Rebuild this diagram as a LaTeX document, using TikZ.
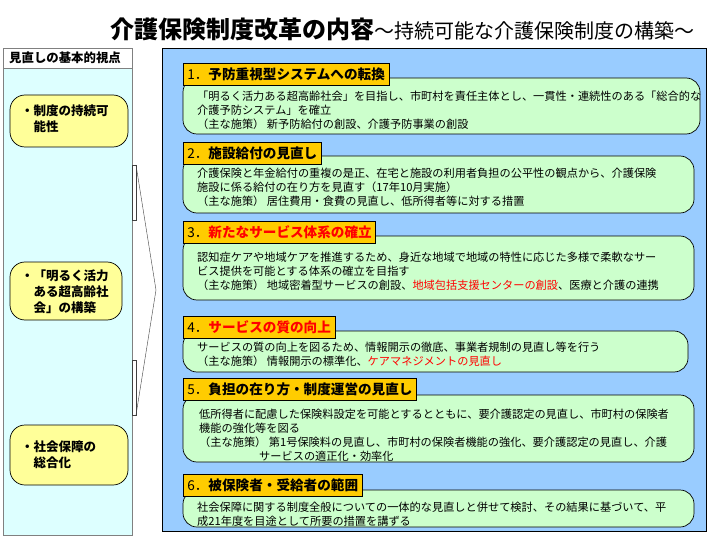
\documentclass[tikz,border=0pt]{standalone}
\usepackage{fontspec}
\newfontfamily\jpfont{Noto Sans CJK JP}
\definecolor{panelblue}{HTML}{99CCFF}
\definecolor{itemgreen}{HTML}{CCFFCC}
\definecolor{headorange}{HTML}{FFCC00}
\definecolor{sidecyan}{HTML}{DDFFFF}
\definecolor{viewyellow}{HTML}{FFFF99}
\definecolor{accentred}{HTML}{FF0000}

\begin{document}
\begin{tikzpicture}[x = 1pt, y = -1pt,
	itembox/.style = {draw = black, fill = itemgreen, rounded corners = 14pt, line width = 0.7pt},
	headbox/.style = {draw = black, fill = headorange, anchor = north west, inner xsep = 4pt, inner ysep = 0pt, minimum height = 22pt, line width = 0.7pt, font = \jpfont\bfseries\fontsize{13.6}{16}\selectfont},
	itemtext/.style = {anchor = north west, inner sep = 0pt, align = left, font = \jpfont\fontsize{11.2}{14}\selectfont},
	viewbox/.style = {draw = black, fill = viewyellow, rounded corners = 15pt, line width = 0.7pt},
	viewtext/.style = {anchor = north west, inner sep = 0pt, align = left, font = \jpfont\bfseries\fontsize{12.5}{16}\selectfont}]

	\useasboundingbox [fill = white] (0, 0) rectangle (720, 540);

	% Title

	\node (title) [anchor = base west, inner sep = 0pt, font = \jpfont\bfseries\fontsize{24}{27}\selectfont] at (110, 39) {介護保険制度改革の内容};
	\node (subtitle) [anchor = base west, inner sep = 0pt, font = \jpfont\fontsize{20}{23}\selectfont] at (title.base east) {～持続可能な介護保険制度の構築～};

	% Basic viewpoints

	\draw [draw = gray, fill = sidecyan] (3, 48) rectangle (132, 535);
	\draw [draw = gray, fill = white] (3, 48) rectangle (132, 68);
	\node (viewhead) [anchor = west, inner sep = 0pt, font = \jpfont\bfseries\fontsize{12.4}{14}\selectfont] at (9, 58) {見直しの基本的視点};

	\draw [viewbox] (10, 95) rectangle (128, 147);
	\node (view1) [viewtext] at (21, 105) {・制度の持続可\\\phantom{・}能性};

	\draw [viewbox] (10, 262) rectangle (122, 320);
	\node (view2) [viewtext] at (21, 270) {・「明るく活力\\\phantom{・}ある超高齢社\\\phantom{・}会」の構築};

	\draw [viewbox] (10, 425) rectangle (128, 485);
	\node (view3) [viewtext] at (21, 441) {・社会保障の\\\phantom{・}総合化};

	% Chevron

	\coordinate (arrowtop) at (136, 165);
	\coordinate (arrowtip) at (156, 290);
	\coordinate (arrowbottom) at (136, 415);

	\draw [draw = darkgray, fill = white] (132, 165) rectangle (arrowtop |- 0, 220);
	\draw [draw = darkgray, fill = white] (132, 360) rectangle (arrowbottom);
	\draw [darkgray] (arrowtop) -- (arrowtip) -- (arrowbottom);

	% Reform panel

	\draw [draw = black, line width = 0.8pt, fill = panelblue] (162, 48) rectangle (706, 531);

	% 1

	\draw [itembox] (183, 78) rectangle (700, 134);
	\node (head1) [headbox] at (183, 63) {{\mdseries 1．}予防重視型システムへの転換};
	\node (text1) [itemtext] at (197, 90.5) {「明るく活力ある超高齢社会」を目指し、市町村を責任主体とし、一貫性・連続性のある「総合的な\\介護予防システム」を確立\\（主な施策） 新予防給付の創設、介護予防事業の創設};

	% 2

	\draw [itembox] (183, 156) rectangle (694, 213);
	\node (head2) [headbox] at (183, 142) {{\mdseries 2．}施設給付の見直し};
	\node (text2) [itemtext] at (197, 167.5) {介護保険と年金給付の重複の是正、在宅と施設の利用者負担の公平性の観点から、介護保険\\施設に係る給付の在り方を見直す（17年10月実施）\\（主な施策） 居住費用・食費の見直し、低所得者等に対する措置};

	% 3

	\draw [itembox] (183, 236) rectangle (694, 300);
	\node (head3) [headbox] at (183, 221) {{\mdseries 3．}\textcolor{accentred}{新たなサービス体系の確立}};
	\node (text3) [itemtext] at (197, 252) {認知症ケアや地域ケアを推進するため、身近な地域で地域の特性に応じた多様で柔軟なサー\\ビス提供を可能とする体系の確立を目指す\\（主な施策） 地域密着型サービスの創設、\textcolor{accentred}{地域包括支援センターの創設}、医療と介護の連携};

	% 4

	\draw [itembox] (183, 331) rectangle (688, 372);
	\node (head4) [headbox] at (183, 316) {{\mdseries 4．}\textcolor{accentred}{サービスの質の向上}};
	\node (text4) [itemtext] at (197, 341.5) {サービスの質の向上を図るため、情報開示の徹底、事業者規制の見直し等を行う\\（主な施策） 情報開示の標準化、\textcolor{accentred}{ケアマネジメントの見直し}};

	% 5

	\draw [itembox] (183, 395) rectangle (694, 462);
	\node (head5) [headbox] at (183, 378) {{\mdseries 5．}負担の在り方・制度運営の見直し};
	\node (text5) [itemtext] at (199, 408.5) {低所得者に配慮した保険料設定を可能とするとともに、要介護認定の見直し、市町村の保険者\\機能の強化等を図る\\（主な施策） 第1号保険料の見直し、市町村の保険者機能の強化、要介護認定の見直し、介護\\\hspace*{60pt}サービスの適正化・効率化};

	% 6

	\draw [itembox] (183, 490) rectangle (694, 527);
	\node (head6) [headbox] at (183, 474) {{\mdseries 6．}被保険者・受給者の範囲};
	\node (text6) [itemtext] at (197, 501.5) {社会保障に関する制度全般についての一体的な見直しと併せて検討、その結果に基づいて、平\\成21年度を目途として所要の措置を講ずる};

\end{tikzpicture}
\end{document}
